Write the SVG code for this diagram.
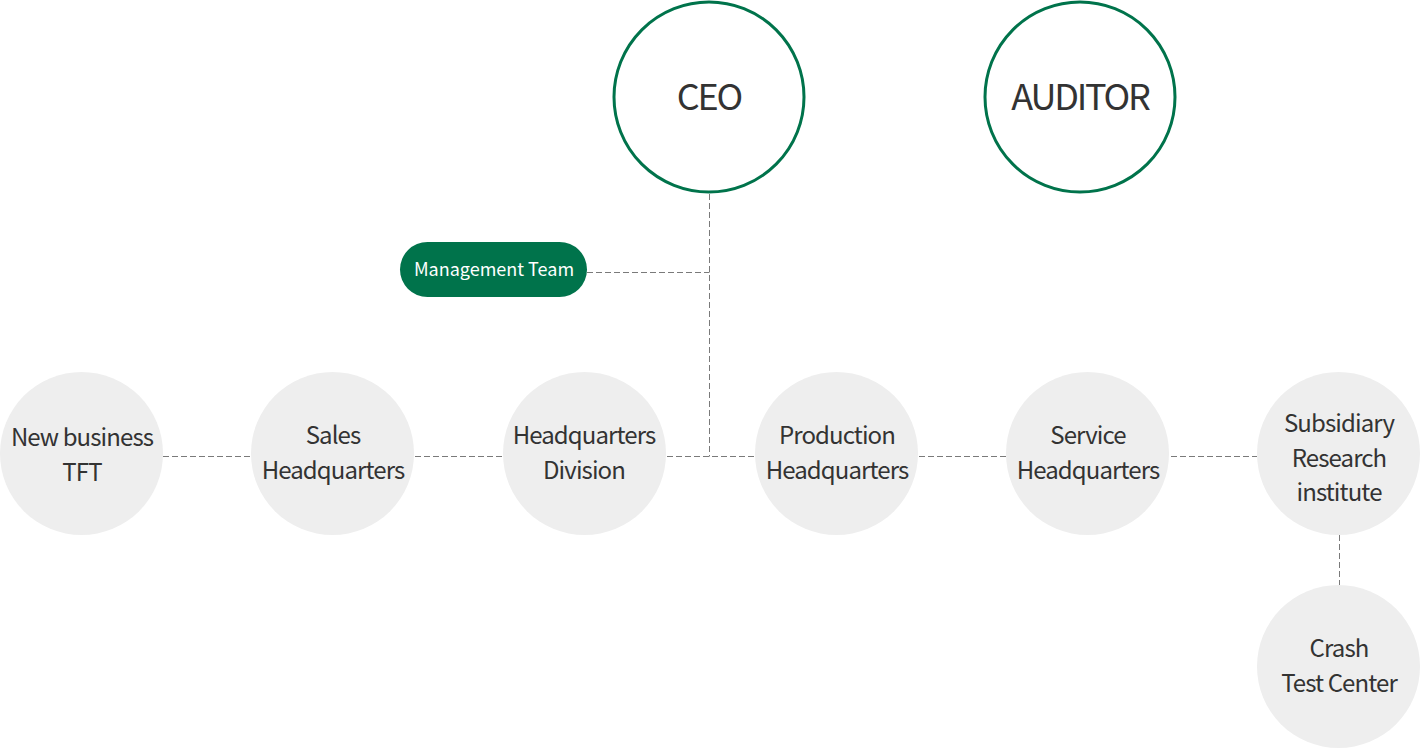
<svg xmlns="http://www.w3.org/2000/svg" width="1420" height="748" viewBox="0 0 1420 748">
<style>
.top{fill:#fff;stroke:#00734b;stroke-width:3}
.topt{font-family:"Noto Sans CJK KR","Noto Sans",sans-serif;font-size:36px;fill:#333;text-anchor:middle;letter-spacing:-2.2px}
.dept{fill:#eeeeee}
.dt{font-family:"Noto Sans CJK KR","Noto Sans",sans-serif;font-size:24px;fill:#333;text-anchor:middle;letter-spacing:-0.9px}
.conn{fill:none;stroke:#7a7a7a;stroke-width:1;stroke-dasharray:6 3}
.pill{fill:#00734b}
.pt{font-family:"Noto Sans CJK KR","Noto Sans",sans-serif;font-size:18px;fill:#fff;text-anchor:middle;letter-spacing:0px}
</style>
<rect width="1420" height="748" fill="#fff"/>
<g id="connectors">
<path class="conn" d="M709.5 194 V456.5"/>
<path class="conn" d="M587 272.5 H709.5"/>
<path class="conn" d="M163 456.5 H1257"/>
<path class="conn" d="M1339.5 535 V585"/>
</g>
<g id="ceo"><circle class="top" cx="709" cy="97" r="95"/><text class="topt" x="709" y="110">CEO</text></g>
<g id="auditor"><circle class="top" cx="1080" cy="97" r="95"/><text class="topt" x="1080" y="110">AUDITOR</text></g>
<g id="management"><rect class="pill" x="400" y="242" width="187" height="55" rx="27.5"/><text class="pt" x="494" y="276">Management Team</text></g>
<g id="newbiz"><circle class="dept" cx="81.5" cy="453.5" r="81.5"/><text class="dt" x="82" y="446">New business</text><text class="dt" x="82" y="481">TFT</text></g>
<g id="sales"><circle class="dept" cx="332.5" cy="453.5" r="81.5"/><text class="dt" x="333" y="444">Sales</text><text class="dt" x="333" y="479">Headquarters</text></g>
<g id="hqdiv"><circle class="dept" cx="584.5" cy="453.5" r="81.5"/><text class="dt" x="584" y="444">Headquarters</text><text class="dt" x="584" y="479">Division</text></g>
<g id="production"><circle class="dept" cx="836.5" cy="453.5" r="81.5"/><text class="dt" x="837" y="444">Production</text><text class="dt" x="837" y="479">Headquarters</text></g>
<g id="service"><circle class="dept" cx="1087.5" cy="453.5" r="81.5"/><text class="dt" x="1088" y="444">Service</text><text class="dt" x="1088" y="479">Headquarters</text></g>
<g id="subsidiary"><circle class="dept" cx="1338.5" cy="453.5" r="81.5"/><text class="dt" x="1339" y="432">Subsidiary</text><text class="dt" x="1339" y="467">Research</text><text class="dt" x="1339" y="501">institute</text></g>
<g id="crash"><circle class="dept" cx="1338.5" cy="666.5" r="81.5"/><text class="dt" x="1339" y="657">Crash</text><text class="dt" x="1339" y="692">Test Center</text></g>
</svg>
